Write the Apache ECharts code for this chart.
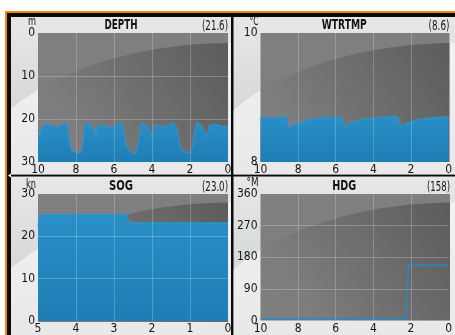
<!DOCTYPE html>
<html>
<head>
<meta charset="utf-8">
<script src="https://cdn.jsdelivr.net/npm/echarts@6/dist/echarts.min.js"></script>
<style>
  html, body { margin: 0; padding: 0; background: #fff; }
  #chart { width: 455px; height: 335px; }
</style>
</head>
<body>
<div id="chart"></div>
<script>
// depth history, minutes ago -> metres
var depthTime = [10.0, 9.95, 9.9, 9.85, 9.79, 9.67, 9.5, 9.32, 9.2, 9.05, 8.9, 8.79, 8.65, 8.53, 8.44, 8.35, 8.26, 8.18, 8.09, 7.9,
  7.74, 7.65, 7.56, 7.47, 7.3, 7.15, 7.04, 6.95, 6.86, 6.6, 6.33, 6.07, 5.81, 5.58, 5.51, 5.37, 5.19, 5.0, 4.84, 4.75,
  4.67, 4.53, 4.32, 4.2, 4.11, 4.0, 3.91, 3.61, 3.35, 3.09, 2.88, 2.74, 2.63, 2.53, 2.39, 2.2, 2.04, 1.89, 1.77, 1.63,
  1.42, 1.25, 1.12, 0.98, 0.72, 0.37, 0.11, 0.0];
var depthValue = [22.6, 23.5, 24.2, 22.8, 21.9, 21.3, 21.4, 21.5, 21.7, 21.9, 21.6, 21.5, 21.1, 20.7, 22.0, 24.6, 26.9, 27.5, 27.8, 27.9,
  27.8, 26.1, 22.0, 20.7, 21.3, 21.8, 22.6, 24.2, 21.6, 21.5, 21.9, 21.9, 21.3, 20.7, 22.0, 26.1, 27.5, 27.9, 28.1, 27.7,
  23.9, 20.7, 21.5, 22.0, 23.1, 24.2, 21.5, 21.5, 21.9, 21.5, 20.8, 21.5, 23.5, 26.1, 27.5, 27.8, 27.8, 26.9, 23.1, 20.7,
  21.5, 22.6, 24.2, 21.5, 21.3, 21.6, 21.9, 21.6];

// water temperature, minutes ago -> degC
var tempTime = [10.0, 9.875, 9.75, 9.625, 9.5, 9.375, 9.25, 9.125, 9.0, 8.875, 8.75, 8.625, 8.5, 8.375, 8.25, 8.125, 8.0,
  7.875, 7.75, 7.625, 7.5, 7.375, 7.25, 7.125, 7.0, 6.875, 6.75, 6.625, 6.5, 6.375, 6.25, 6.125, 6.0,
  5.875, 5.75, 5.625, 5.5, 5.375, 5.25, 5.125, 5.0, 4.875, 4.75, 4.625, 4.5, 4.375, 4.25, 4.125, 4.0,
  3.875, 3.75, 3.625, 3.5, 3.375, 3.25, 3.125, 3.0, 2.875, 2.75, 2.625, 2.5, 2.375, 2.25, 2.125, 2.0,
  1.875, 1.75, 1.625, 1.5, 1.375, 1.25, 1.125, 1.0, 0.875, 0.75, 0.625, 0.5, 0.375, 0.25, 0.125, 0.0];
var tempValue = [8.68, 8.69, 8.67, 8.70, 8.68, 8.69, 8.67, 8.70, 8.69, 8.71, 8.69, 8.72, 8.55, 8.54, 8.58, 8.59, 8.61,
  8.60, 8.63, 8.65, 8.64, 8.67, 8.66, 8.68, 8.67, 8.69, 8.68, 8.70, 8.68, 8.69, 8.71, 8.69, 8.70,
  8.68, 8.71, 8.66, 8.53, 8.57, 8.60, 8.62, 8.61, 8.64, 8.66, 8.65, 8.68, 8.67, 8.66, 8.68, 8.69,
  8.68, 8.70, 8.68, 8.69, 8.71, 8.69, 8.70, 8.72, 8.70, 8.71, 8.64, 8.53, 8.58, 8.60, 8.62, 8.61,
  8.64, 8.66, 8.65, 8.67, 8.66, 8.68, 8.67, 8.69, 8.68, 8.70, 8.68, 8.69, 8.71, 8.69, 8.70, 8.69];

// speed over ground, minutes ago -> knots
var sogTime = [5.0, 4.97, 4.92, 2.68, 2.63, 2.58, 0.0];
var sogValue = [22.5, 24.7, 25.2, 25.2, 24.0, 23.2, 23.2];

// heading, minutes ago -> degrees magnetic
var hdgTime = [10.0, 2.26, 2.14, 0.0];
var hdgValue = [4, 4, 157, 157];

var titles = ["DEPTH", "WTRTMP", "SOG", "HDG"];
var readings = ["(21.6)", "(8.6)", "(23.0)", "(158)"];
var units = ["m", "\u00b0C", "kn", "\u00b0M"];
var xRanges = [[0, 10, 2], [0, 10, 2], [0, 5, 1], [0, 10, 2]];
var yRanges = [[0, 30, 10], [8, 10, 2], [0, 30, 10], [0, 360, 90]];

// pick the narrowest face that is actually installed
function hasFont(name) {
  var ctx = document.createElement("canvas").getContext("2d");
  var probe = "DEPTH WTRTMP 0123456789";
  ctx.font = "20px monospace";
  var w0 = ctx.measureText(probe).width;
  ctx.font = "20px '" + name + "', monospace";
  return ctx.measureText(probe).width !== w0;
}
var FACE = ["Liberation Sans Narrow", "DejaVu Sans Condensed", "Roboto"].filter(hasFont)[0] || "sans-serif";
var FONT = "'" + FACE + "', sans-serif";
var NARROW = FACE === "Liberation Sans Narrow";

var measureCtx = document.createElement("canvas").getContext("2d");
function fitScale(text, font, target) {
  measureCtx.font = font;
  return Math.min(1, target / measureCtx.measureText(text).width);
}

var panels = [
  { x: 11, y: 17, w: 220, h: 157.5, titleY: 25, unitY: 22, tw: [33, 26, 8],
    grid: { left: 38, top: 33, width: 190, height: 129 } },
  { x: 233.5, y: 17, w: 221.5, h: 157.5, titleY: 25, unitY: 21.5, tw: [45, 21, 9],
    grid: { left: 260.5, top: 33, width: 189, height: 129 } },
  { x: 11, y: 176.5, w: 220, h: 158.5, titleY: 186.5, unitY: 185, tw: [24, 26, 10],
    grid: { left: 38, top: 194, width: 190, height: 128 } },
  { x: 233.5, y: 176.5, w: 221.5, h: 158.5, titleY: 186, unitY: 182.5, tw: [24, 23, 12],
    grid: { left: 260.5, top: 194, width: 189.5, height: 126.5 } }
];

// gloss ellipse, centred on the panel's right edge
var GA = 266, GB = 150;

function glossPoints(p, x0, x1, yTop, yBot) {
  var cx = p.x + p.w, cy = p.y + 26 + GB, pts = [];
  for (var i = 0; i <= 48; i++) {
    var x = x0 + (x1 - x0) * i / 48;
    var dx = (x - cx) / GA;
    var y = cy - GB * Math.sqrt(Math.max(0, 1 - dx * dx));
    pts.push([x, Math.min(yBot, Math.max(yTop, y))]);
  }
  pts.push([x1, yBot], [x0, yBot]);
  return pts;
}

function zip(xs, ys) {
  return xs.map(function(x, i) { return [x, ys[i]]; });
}

function label(text, font, x, y, align, target) {
  return {
    type: "text", z: 5, x: x, y: y, scaleX: fitScale(text, font, target),
    style: { text: text, font: font, fill: "#141414", align: align, verticalAlign: "middle" }
  };
}

var graphics = [
  { type: "rect", z: 0, shape: { x: 5, y: 11, width: 450, height: 324 }, style: { fill: "#f08a00" } },
  { type: "rect", z: 0, shape: { x: 7, y: 13, width: 448, height: 322 }, style: { fill: "#0a0a0a" } },
  { type: "polygon", z: 0, shape: { points: [[8, 175.5], [11, 173.5], [11, 177.5]] }, style: { fill: "#ffffff" } }
];

panels.forEach(function(p, i) {
  var g = p.grid;
  graphics.push({
    type: "rect", z: 0, shape: { x: p.x, y: p.y, width: p.w, height: p.h },
    style: { fill: new echarts.graphic.LinearGradient(0, 0, 0, 1, [
      { offset: 0, color: "#e6e7e9" }, { offset: 1, color: "#cdcdcd" }]) }
  });
  graphics.push({
    type: "polygon", z: 0, shape: { points: glossPoints(p, p.x, p.x + p.w, p.y, p.y + p.h) },
    style: { fill: "rgba(255,255,255,0.55)" }
  });
  graphics.push({
    type: "rect", z: 0, shape: { x: g.left, y: g.top, width: g.width, height: g.height },
    style: { fill: "#7f7f7f" }
  });
  graphics.push({
    type: "polygon", z: 0,
    shape: { points: glossPoints(p, g.left, g.left + g.width, g.top, g.top + g.height) },
    style: { fill: new echarts.graphic.LinearGradient(1, 0, 0, 1, [
      { offset: 0, color: "rgba(30,30,30,0.36)" }, { offset: 0.8, color: "rgba(30,30,30,0.02)" },
      { offset: 1, color: "rgba(30,30,30,0)" }]) }
  });
  graphics.push(label(titles[i], "bold 14px " + FONT, p.x + p.w / 2, p.titleY, "center", p.tw[0]));
  graphics.push(label(readings[i], "14px " + FONT, g.left + g.width, p.titleY + 1, "right", p.tw[1]));
  graphics.push(label(units[i], "13px " + FONT, g.left - 2, p.unitY, "right", p.tw[2]));
});

var grids = [], xAxes = [], yAxes = [];
var splitStyle = { show: true, showMinLine: false, showMaxLine: false,
  lineStyle: { color: "rgba(255,255,255,0.22)", width: 1 } };
var tickFont = { color: "#141414", fontSize: NARROW ? 13 : 12, fontFamily: FONT };

panels.forEach(function(p, i) {
  grids.push({ left: p.grid.left, top: p.grid.top, width: p.grid.width, height: p.grid.height });
  xAxes.push({
    type: "value", gridIndex: i, inverse: true, z: 3,
    min: xRanges[i][0], max: xRanges[i][1], interval: xRanges[i][2],
    axisLine: { show: false }, axisTick: { show: false },
    axisLabel: Object.assign({ margin: 2 }, tickFont),
    splitLine: splitStyle
  });
  yAxes.push({
    type: "value", gridIndex: i, inverse: i === 0, z: 3,
    min: yRanges[i][0], max: yRanges[i][1], interval: yRanges[i][2],
    axisLine: { show: false }, axisTick: { show: false },
    axisLabel: Object.assign({ margin: 3 }, tickFont),
    splitLine: i === 1 ? { show: false } : splitStyle
  });
});

function areaSeries(idx, data, origin) {
  return {
    type: "line", xAxisIndex: idx, yAxisIndex: idx, data: data,
    showSymbol: false, silent: true, z: 2,
    lineStyle: { color: "#2f97cf", width: 1 },
    areaStyle: { origin: origin, opacity: 1, color: new echarts.graphic.LinearGradient(0, 0, 0, 1, [
      { offset: 0, color: "#2a8fc7" }, { offset: 1, color: "#1e7db4" }]) }
  };
}

var chart = echarts.init(document.getElementById("chart"));
chart.setOption({
  animation: false,
  graphic: { elements: graphics },
  grid: grids,
  xAxis: xAxes,
  yAxis: yAxes,
  series: [
    areaSeries(0, zip(depthTime, depthValue), "end"),
    areaSeries(1, zip(tempTime, tempValue), "start"),
    areaSeries(2, zip(sogTime, sogValue), "start"),
    {
      type: "line", xAxisIndex: 3, yAxisIndex: 3, data: zip(hdgTime, hdgValue),
      showSymbol: false, silent: true, z: 2,
      lineStyle: { color: "#2589c2", width: 1.5 }
    }
  ]
});
</script>
</body>
</html>
